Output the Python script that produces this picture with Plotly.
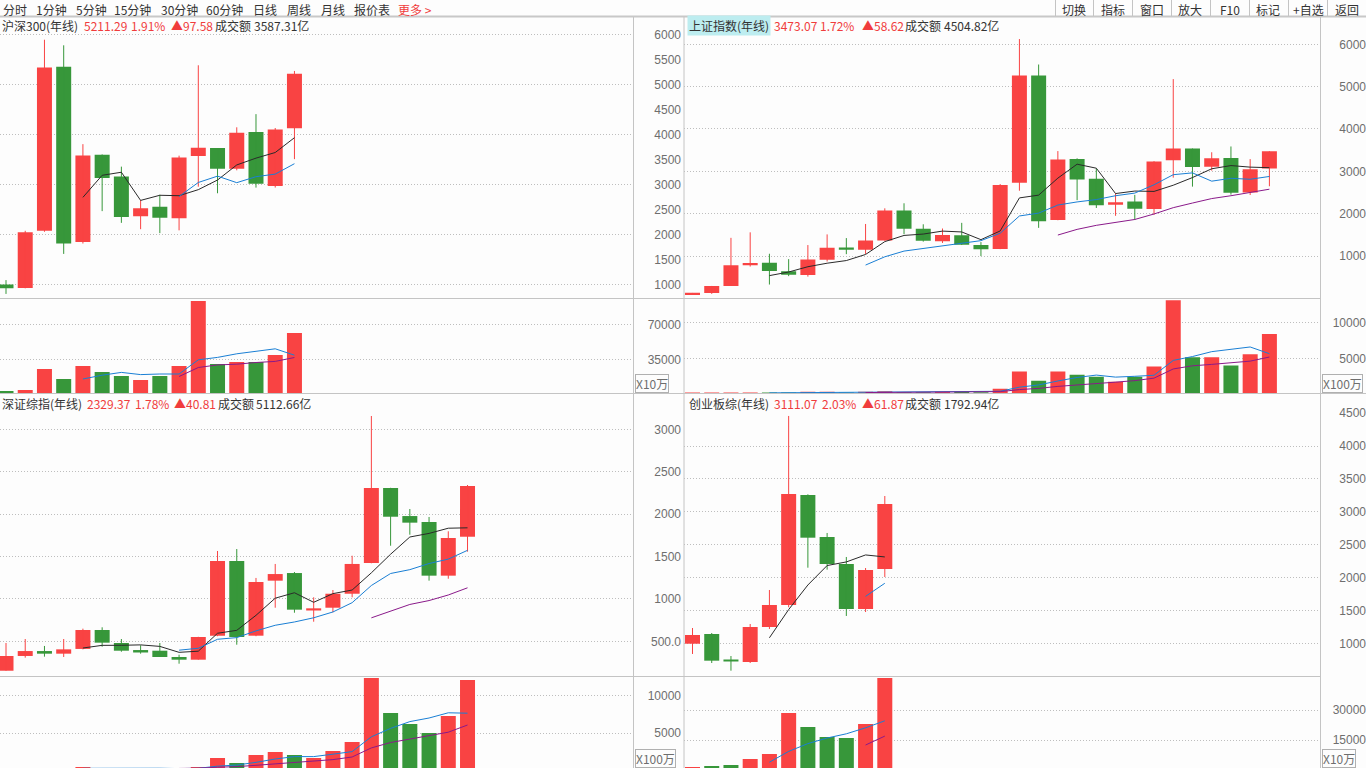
import plotly.graph_objects as go

W, H = 1366, 768

# ---------------- data ----------------
hs300_years = list(range(2005, 2021))
hs300_open  = [994.8, 927.9, 2073.3, 5349.8, 1848.3, 3592.5, 3155.0, 2361.0, 2551.0, 2323.0, 3566.1, 3725.9, 3313.0, 4045.0, 2968.0, 4121.0]
hs300_high  = [1084.1, 2070.3, 5891.7, 5780.0, 3803.1, 3597.0, 3353.0, 2685.0, 2791.0, 3573.0, 5380.4, 3726.0, 4140.0, 4403.3, 4126.0, 5267.0]
hs300_low   = [807.8, 920.0, 2050.0, 1607.7, 1816.0, 2463.3, 2229.0, 2102.0, 2023.0, 2079.0, 2952.0, 2821.0, 3280.0, 2934.0, 2935.0, 3503.0]
hs300_close = [923.5, 2041.1, 5338.3, 1817.7, 3575.7, 3128.3, 2345.7, 2523.0, 2330.0, 3533.7, 3731.0, 3310.1, 4030.9, 3010.7, 4096.6, 5211.3]
hs300_vol   = [3300, 4300, 25300, 15300, 28300, 22300, 18300, 14300, 18300, 28300, 93300, 30300, 32300, 32300, 39300, 61300]

sh_years = list(range(1990, 2021))
sh_open  = [96.1, 127.6, 293.7, 784.1, 837.7, 637.7, 550.3, 914.1, 1201.0, 1144.9, 1368.7, 2077.1, 1643.5, 1347.4, 1492.7, 1260.8,
            1163.9, 2728.2, 5265.0, 1849.0, 3289.8, 2825.3, 2212.0, 2289.5, 2109.4, 3258.6, 3536.6, 3105.3, 3314.0, 2497.9, 3066.3]
sh_high  = [127.6, 292.8, 1429.0, 1559.0, 1052.9, 926.4, 1258.7, 1510.2, 1423.0, 1756.2, 2125.7, 2245.4, 1748.9, 1649.6, 1783.0, 1328.5,
            2698.9, 6124.0, 5522.8, 3478.0, 3306.8, 3067.5, 2478.4, 2444.8, 3239.4, 5178.2, 3538.7, 3450.5, 3587.0, 3288.5, 3474.9]
sh_low   = [95.8, 105.0, 292.8, 750.5, 325.9, 524.4, 512.8, 870.2, 1043.0, 1047.8, 1361.2, 1514.9, 1339.2, 1307.4, 1259.4, 998.2,
            1161.9, 2541.5, 1664.9, 1844.1, 2319.7, 2134.0, 1949.5, 1849.7, 1974.4, 2850.7, 2638.3, 3016.5, 2449.2, 2440.9, 2646.8]
sh_close = [127.6, 292.8, 780.4, 833.8, 647.9, 555.3, 917.0, 1194.1, 1146.7, 1366.6, 2073.5, 1646.0, 1357.7, 1497.0, 1266.5, 1161.1,
            2675.5, 5261.6, 1820.8, 3277.1, 2808.1, 2199.4, 2269.1, 2116.0, 3234.7, 3539.2, 3103.6, 3307.2, 2493.9, 3050.1, 3473.1]
sh_vol   = [100, 150, 200, 200, 150, 150, 300, 300, 200, 300, 400, 250, 250, 300, 350, 250,
            750, 3140, 1860, 3140, 2700, 2430, 1710, 2430, 3860, 13140, 5140, 5140, 4000, 5570, 8430]

sz_years = list(range(1996, 2021))
sz_open  = [153, 327, 385, 354, 410, 633, 480, 382, 389, 315, 283, 566, 1447, 566, 1215, 1305, 870, 896, 1061, 1423, 2308, 1977, 1907, 1274, 1733]
sz_high  = [480, 527, 445, 527, 649, 665, 527, 453, 480, 342, 553, 1565, 1588, 1247, 1412, 1317, 1019, 1105, 1509, 3157, 2310, 2060, 1966, 1797, 2343]
sz_low   = [153, 307, 319, 315, 405, 436, 377, 354, 315, 236, 283, 560, 460, 560, 896, 837, 731, 842, 1019, 1420, 1627, 1757, 1215, 1238, 1557]
sz_close = [327, 385, 354, 405, 633, 484, 389, 378, 315, 283, 551, 1447, 551, 1199, 1293, 873, 884, 1061, 1412, 2308, 1969, 1899, 1274, 1718, 2331]
sz_vol   = [200, 300, 250, 300, 480, 300, 250, 250, 300, 250, 480, 1690, 1020, 2090, 2490, 2090, 1690, 2630, 3830, 12410, 7720, 6240, 5040, 7320, 12140]

cy_years = list(range(2010, 2021))
cy_open  = [994, 1142, 730, 716, 1248, 1583, 3255, 2617, 2206, 1522, 2130]
cy_high  = [1233, 1157, 807, 1294, 1811, 4457, 3266, 2678, 2313, 2145, 3240]
cy_low   = [838, 701, 584, 701, 1218, 1548, 2150, 2120, 1416, 1476, 2008]
cy_close = [1127, 736, 727, 1248, 1583, 3271, 2606, 2206, 1522, 2115, 3118]
cy_vol   = [1500, 2000, 2500, 5500, 8000, 28500, 21500, 16500, 16000, 23000, 46000]

toolbar_left = ["分时", "1分钟", "5分钟", "15分钟", "30分钟", "60分钟", "日线", "周线", "月线", "报价表", "更多 >"]
toolbar_right = ["切换", "指标", "窗口", "放大", "F10", "标记", "+自选", "返回"]

headers = [
    ("沪深300(年线)", "5211.29", "1.91%", "▲97.58", "3587.31亿"),
    ("上证指数(年线)", "3473.07", "1.72%", "▲58.62", "4504.82亿"),
    ("深证综指(年线)", "2329.37", "1.78%", "▲40.81", "5112.66亿"),
    ("创业板综(年线)", "3111.07", "2.03%", "▲61.87", "1792.94亿"),
]

# ---------------- style ----------------
RED = "#F94343"
GREEN = "#37973A"
MA_COL = {5: "#2A2A2A", 10: "#1A7FD4", 20: "#8A1A8A"}
VMA_COL = {5: "#1A7FD4", 10: "#8A1A8A"}
GRID = "#BEBEBE"
FRAME = "#C4C4C4"
TXT = "#333333"
TXTRED = "#F03C3C"
AXF = dict(family="Liberation Sans, Arial, sans-serif", size=12, color="#6E6E6E")
CJK = "Noto Sans CJK SC, sans-serif"
SLOT = 19.23


def px_x(p):
    return p / W


def px_y(p):
    return 1 - p / H


def ma(vals, n):
    return [None if i < n - 1 else sum(vals[i - n + 1:i + 1]) / n for i in range(len(vals))]


fig = go.Figure()
layout_axes = {}

panels = [
    dict(o=hs300_open, h=hs300_high, l=hs300_low, c=hs300_close, v=hs300_vol,
         xpx=(0, 633), c0=6.0, ppx=(17, 298.5), vpx=(298.5, 393.5),
         pscale=(34.3, 6000, 0.05), vscale=(394.3, 1000.0),
         plab=[1000, 1500, 2000, 2500, 3000, 3500, 4000, 4500, 5000, 5500, 6000], ptxt=None,
         pgrid=[1000, 2000, 3000, 4000, 5000, 6000],
         vlab=[35000, 70000], vgrid=[35000, 70000], labpos=681, pma=[5, 10, 20]),
    dict(o=sh_open, h=sh_high, l=sh_low, c=sh_close, v=sh_vol,
         xpx=(684, 1320), c0=692.5, ppx=(17, 298.5), vpx=(298.5, 393.5),
         pscale=(44.3, 6000, 0.04234), vscale=(394.0, 140.3),
         plab=[1000, 2000, 3000, 4000, 5000, 6000], ptxt=None,
         pgrid=[1000, 2000, 3000, 4000, 5000, 6000],
         vlab=[5000, 10000], vgrid=[5000, 10000], labpos=1366, pma=[5, 10, 20]),
    dict(o=sz_open, h=sz_high, l=sz_low, c=sz_close, v=sz_vol,
         xpx=(0, 633), c0=6.0, ppx=(393.5, 676), vpx=(676.5, 768),
         pscale=(683.7, 0, 0.0848), vscale=(770.6, 134.0),
         plab=[500, 1000, 1500, 2000, 2500, 3000], ptxt=["500.0", "1000", "1500", "2000", "2500", "3000"],
         pgrid=[500, 1000, 1500, 2000, 2500, 3000],
         vlab=[5000, 10000], vgrid=[5000, 10000], labpos=681, pma=[5, 10, 20]),
    dict(o=cy_open, h=cy_high, l=cy_low, c=cy_close, v=cy_vol,
         xpx=(684, 1320), c0=692.5, ppx=(393.5, 676), vpx=(676.5, 768),
         pscale=(709.1, 0, 0.06577), vscale=(770.0, 500.0),
         plab=[1000, 1500, 2000, 2500, 3000, 3500, 4000, 4500], ptxt=None,
         pgrid=[1000, 1500, 2000, 2500, 3000, 3500, 4000],
         vlab=[15000, 30000], vgrid=[15000, 30000], labpos=1366, pma=[5, 10, 20]),
]


def ax_name(kind, n):
    return kind + ("" if n == 1 else str(n))


for pi, P in enumerate(panels):
    n = len(P["c"])
    idx = list(range(n))
    xp_n = 2 * pi + 1
    xv_n = 2 * pi + 2
    yp_n = 4 * pi + 1
    ypl_n = 4 * pi + 2
    yv_n = 4 * pi + 3
    yvl_n = 4 * pi + 4

    y0px, v0, k = P["pscale"]

    def pv(py, y0px=y0px, v0=v0, k=k):
        return v0 - (py - y0px) / k

    prange = [pv(P["ppx"][1]), pv(P["ppx"][0])]
    vz, vk = P["vscale"]
    vrange = [(vz - P["vpx"][1]) * vk, (vz - P["vpx"][0]) * vk]
    xrange = [(P["xpx"][0] - P["c0"]) / SLOT, (P["xpx"][1] - P["c0"]) / SLOT]
    xdom = [px_x(P["xpx"][0]), px_x(P["xpx"][1])]

    xp = ax_name("x", xp_n)
    xv = ax_name("x", xv_n)
    yp = ax_name("y", yp_n)
    yv = ax_name("y", yv_n)
    ypl = ax_name("y", ypl_n)
    yvl = ax_name("y", yvl_n)

    up = [P["c"][i] >= P["o"][i] for i in idx]
    cols = [RED if u else GREEN for u in up]
    minh = 1.6 / k
    body_h = [max(abs(P["c"][i] - P["o"][i]), minh) for i in idx]
    body_b = [min(P["c"][i], P["o"][i]) for i in idx]

    # wicks
    for flag, col in ((True, RED), (False, GREEN)):
        wx, wy = [], []
        for i in idx:
            if up[i] == flag:
                wx += [i, i, None]
                wy += [P["l"][i], P["h"][i], None]
        fig.add_trace(go.Scatter(x=wx, y=wy, mode="lines", line=dict(color=col, width=1),
                                 xaxis=xp, yaxis=yp, hoverinfo="skip", showlegend=False))
    # bodies
    fig.add_trace(go.Bar(x=idx, y=body_h, base=body_b, width=15 / SLOT, marker=dict(color=cols, line=dict(width=0)),
                         xaxis=xp, yaxis=yp, hoverinfo="skip", showlegend=False))
    # price MAs
    for m in P["pma"]:
        fig.add_trace(go.Scatter(x=idx, y=ma(P["c"], m), mode="lines", line=dict(color=MA_COL[m], width=1),
                                 xaxis=xp, yaxis=yp, hoverinfo="skip", showlegend=False, connectgaps=False))
    # volume
    fig.add_trace(go.Bar(x=idx, y=P["v"], width=15 / SLOT, marker=dict(color=cols, line=dict(width=0)),
                         xaxis=xv, yaxis=yv, hoverinfo="skip", showlegend=False))
    for m in (5, 10):
        fig.add_trace(go.Scatter(x=idx, y=ma(P["v"], m), mode="lines", line=dict(color=VMA_COL[m], width=1),
                                 xaxis=xv, yaxis=yv, hoverinfo="skip", showlegend=False))
    # empty traces so that the label axes are drawn
    fig.add_trace(go.Scatter(x=[None], y=[None], mode="markers", xaxis=xp, yaxis=ypl,
                             hoverinfo="skip", showlegend=False))
    fig.add_trace(go.Scatter(x=[None], y=[None], mode="markers", xaxis=xv, yaxis=yvl,
                             hoverinfo="skip", showlegend=False))

    for xn, yref in ((xp_n, yp), (xv_n, yv)):
        layout_axes["xaxis" + ("" if xn == 1 else str(xn))] = dict(
            domain=xdom, range=xrange, visible=False, fixedrange=True, anchor=yref)

    grid_common = dict(showgrid=True, gridcolor=GRID, griddash="1px,2px", gridwidth=1,
                       showticklabels=False, ticks="", zeroline=False, showline=False, fixedrange=True)
    layout_axes["yaxis" + ("" if yp_n == 1 else str(yp_n))] = dict(
        domain=[px_y(P["ppx"][1]), px_y(P["ppx"][0])], range=prange, tickvals=P["pgrid"], anchor=xp, **grid_common)
    layout_axes["yaxis" + str(yv_n)] = dict(
        domain=[max(0, px_y(P["vpx"][1])), px_y(P["vpx"][0])], range=vrange, tickvals=P["vgrid"], anchor=xv, **grid_common)

    lab_common = dict(anchor="free", side="left", showgrid=False, zeroline=False, showline=False,
                      ticks="", ticklen=0, tickfont=AXF, fixedrange=True, autorange=False)
    layout_axes["yaxis" + str(ypl_n)] = dict(
        overlaying=yp, position=P["labpos"] / W, range=prange, tickvals=P["plab"],
        ticktext=P["ptxt"] if P["ptxt"] else [str(v) for v in P["plab"]], **lab_common)
    layout_axes["yaxis" + str(yvl_n)] = dict(
        overlaying=yv, position=P["labpos"] / W, range=vrange, tickvals=P["vlab"],
        ticktext=[str(v) for v in P["vlab"]], **lab_common)

# ---------------- frame shapes ----------------
shapes = []


def hline(y, x0, x1, color=FRAME, w=1):
    shapes.append(dict(type="line", xref="paper", yref="paper", x0=px_x(x0), x1=px_x(x1),
                       y0=px_y(y), y1=px_y(y), line=dict(color=color, width=w)))


def vline(x, y0, y1, color=FRAME, w=1):
    shapes.append(dict(type="line", xref="paper", yref="paper", x0=px_x(x), x1=px_x(x),
                       y0=px_y(y0), y1=px_y(y1), line=dict(color=color, width=w)))


hline(16.5, 0, W, "#C8C8C8", 2)
vline(633.5, 17, H)
vline(684, 17, H)
vline(1320.5, 17, H)
hline(298.5, 0, 1320.5)
hline(393.5, 0, W)
hline(676.5, 0, 1320.5)
for xs in (1055.5, 1093.5, 1132.5, 1171.5, 1210.5, 1249.5, 1288.5, 1327.5):
    vline(xs, 0, 16)

# ---------------- text ----------------
ann = []
tb_x = [2, 35, 75, 113, 160, 205, 252, 286, 320, 353, 397]
for t, x in zip(toolbar_left, tb_x):
    ann.append(dict(text=t, x=px_x(x), y=px_y(0.5), xref="paper", yref="paper", xanchor="left", yanchor="top",
                    showarrow=False, borderpad=0,
                    font=dict(family=CJK, size=12, color=TXTRED if t.startswith("更多") else TXT)))
tr_x = [1074, 1113, 1152, 1190, 1230, 1268, 1308, 1347]
for t, x in zip(toolbar_right, tr_x):
    ann.append(dict(text=t, x=px_x(x), y=px_y(0.5), xref="paper", yref="paper", xanchor="center", yanchor="top",
                    showarrow=False, borderpad=0, font=dict(family=CJK, size=12, color=TXT)))

hdr_pos = [
    (0, 26, [0, 82, 129, 169, 213, 252]),
    (687, 26, [687, 772, 818, 860, 903, 942]),
    (0, 403, [0, 85, 133, 172, 216, 254]),
    (687, 403, [687, 772, 820, 860, 903, 942]),
]
for hi, (hd, (hx, hy, xs)) in enumerate(zip(headers, hdr_pos)):
    name, price, pct, chg, amt = hd
    parts = [(name, TXT), (price, TXTRED), (pct, TXTRED), (chg, TXTRED), ("成交额", TXT), (amt, TXT)]
    for j, ((t, col), x) in enumerate(zip(parts, xs)):
        a = dict(text=t, x=px_x(x), y=px_y(hy), xref="paper", yref="paper", xanchor="left", yanchor="middle",
                 showarrow=False, font=dict(family=CJK, size=12, color=col))
        if hi == 1 and j == 0:
            a["bgcolor"] = "#BDEDF0"
            a["borderpad"] = 1
        ann.append(a)

unit_boxes = [("X10万", 635, 393), ("X100万", 1322, 393), ("X100万", 635, 768), ("X10万", 1322, 768)]
for t, x, yb in unit_boxes:
    ann.append(dict(text=t, x=px_x(x), y=px_y(yb), xref="paper", yref="paper", xanchor="left", yanchor="bottom",
                    showarrow=False, bordercolor="#B0B0B0", borderwidth=1, borderpad=0,
                    font=dict(family=CJK, size=12, color="#6E6E6E")))

fig.update_layout(
    width=W, height=H, margin=dict(l=0, r=0, t=0, b=0),
    paper_bgcolor="#FDFDFD", plot_bgcolor="rgba(0,0,0,0)",
    showlegend=False, barmode="overlay",
    shapes=shapes, annotations=ann, **layout_axes,
)

fig.write_html("out.html", config={"displayModeBar": False})
